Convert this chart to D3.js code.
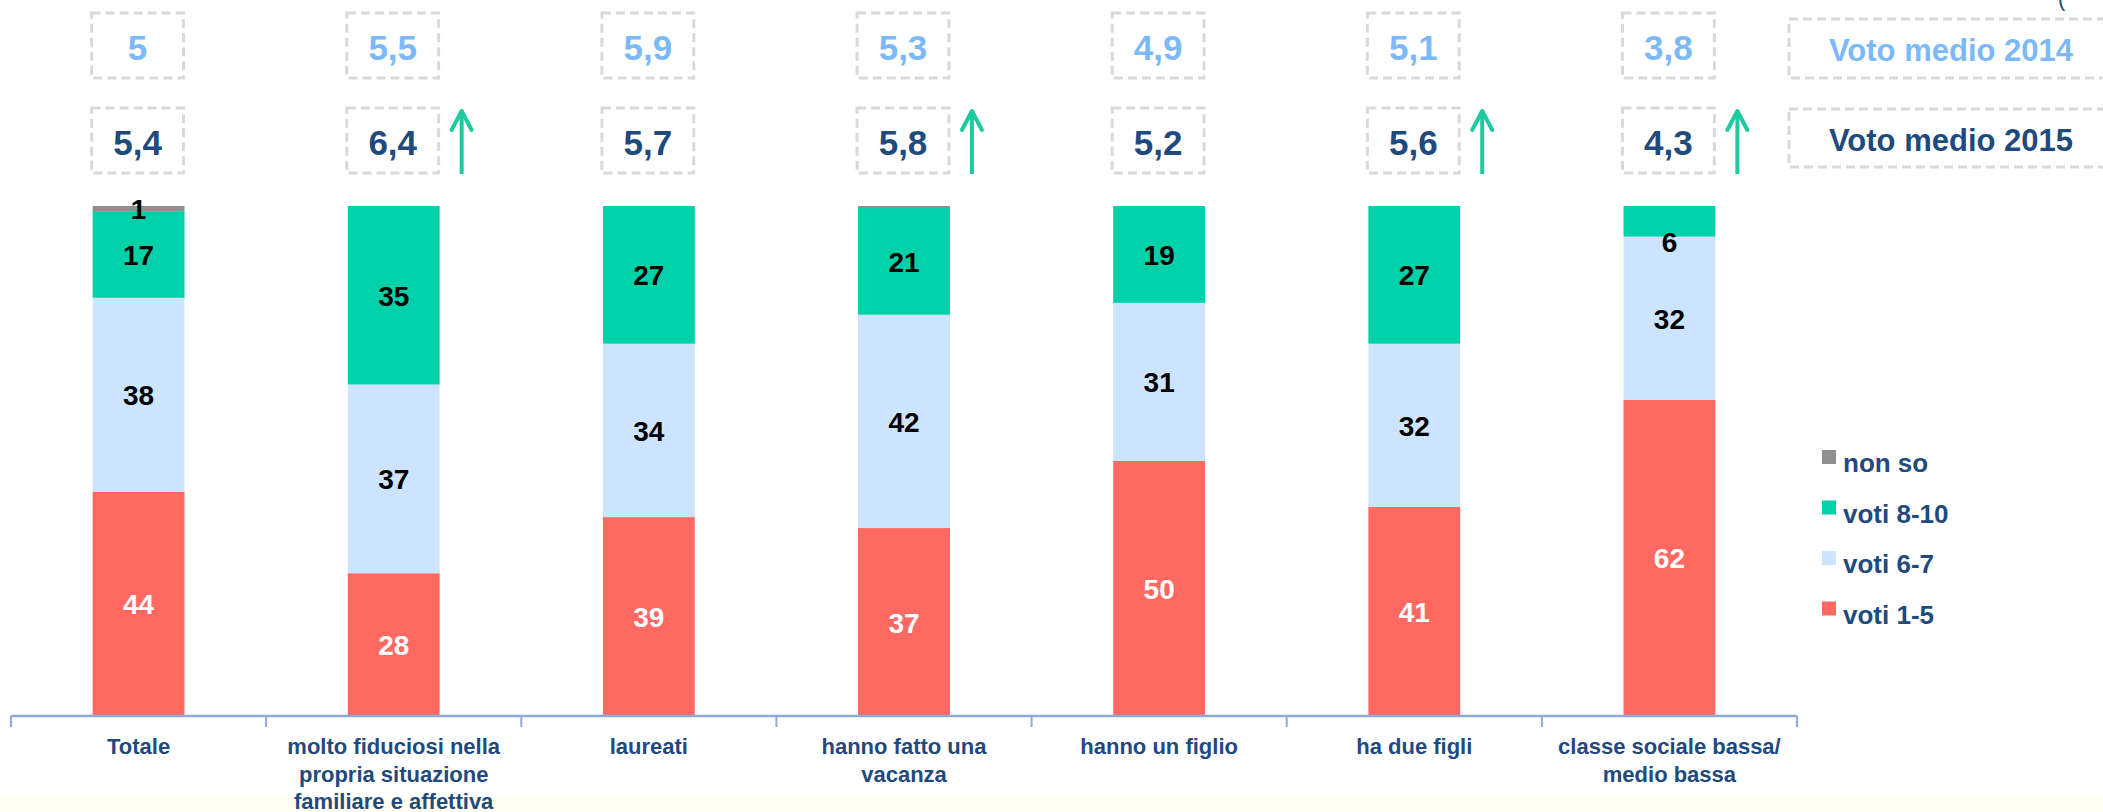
<!DOCTYPE html>
<html>
<head>
<meta charset="utf-8">
<script src="https://cdn.jsdelivr.net/npm/d3@7"></script>
<style>
	body { margin: 0; background: #fff; }
	svg { display: block; font-family: "Liberation Sans", Arial, sans-serif; font-weight: bold; }
</style>
</head>
<body>
<svg id="chart" width="2103" height="812"></svg>
<script>
var categories = ["Totale", "molto fiduciosi nella propria situazione familiare e affettiva", "laureati", "hanno fatto una vacanza", "hanno un figlio", "ha due figli", "classe sociale bassa/ medio bassa"];
var voti15 = [44, 28, 39, 37, 50, 41, 62];
var voti67 = [38, 37, 34, 42, 31, 32, 32];
var voti810 = [17, 35, 27, 21, 19, 27, 6];
var nonSo = [1, 0, 0, 0.4, 0, 0, 0];
var voto2014 = [5, 5.5, 5.9, 5.3, 4.9, 5.1, 3.8];
var voto2015 = [5.4, 6.4, 5.7, 5.8, 5.2, 5.6, 4.3];
var seriesKeys = ["voti 1-5", "voti 6-7", "voti 8-10", "non so"];
var seriesColors = ["#ff6962", "#cce4fd", "#00d1a9", "#909090"];

var svg = d3.select("#chart");
var W = 2103, H = 812;
var navy = "#1f4a7e", paleBlue = "#7cb9f8", dashGrey = "#d9d9d9", arrowCol = "#1ccb9f";

// faint yellowish strip at the very bottom
svg.append("rect").attr("x", 0).attr("y", 797).attr("width", W).attr("height", H - 797).attr("fill", "#fffef1");

var rows = categories.map(function(c, i) {
	return { cat: c, "voti 1-5": voti15[i], "voti 6-7": voti67[i], "voti 8-10": voti810[i], "non so": nonSo[i] };
});

var x = d3.scaleBand().domain(categories).range([11, 1797]).paddingInner(0.64).paddingOuter(0.32);
var y = d3.scaleLinear().domain([0, 1]).range([716, 206]);
var color = d3.scaleOrdinal().domain(seriesKeys).range(seriesColors);

var stacked = d3.stack().keys(seriesKeys).offset(d3.stackOffsetExpand)(rows);

var layers = svg.append("g").selectAll("g")
	.data(stacked)
	.enter().append("g")
		.attr("fill", function(d) { return color(d.key); });

layers.selectAll("rect")
	.data(function(d) { return d; })
	.enter().append("rect")
		.attr("x", function(d) { return x(d.data.cat); })
		.attr("y", function(d) { return y(d[1]); })
		.attr("width", x.bandwidth())
		.attr("height", function(d) { return y(d[0]) - y(d[1]); });

// segment labels
stacked.forEach(function(layer) {
	svg.append("g").selectAll("text")
		.data(layer.filter(function(d) { return d.data[layer.key] >= 1; }))
		.enter().append("text")
			.attr("x", function(d) { return x(d.data.cat) + x.bandwidth() / 2; })
			.attr("y", function(d) {
				var top = y(d[1]), bot = y(d[0]), h = bot - top;
				// thin slices that still fit a label get pushed onto the lower edge
				if (h > 12 && h < 40) return bot + 6;
				return (top + bot) / 2 + 1;
			})
			.attr("text-anchor", "middle")
			.attr("dominant-baseline", "central")
			.attr("font-size", 28)
			.attr("fill", layer.key === "voti 1-5" ? "#fff" : "#000")
			.text(function(d) { return Math.round(d.data[layer.key]); });
});

// axis
var axisG = svg.append("g").attr("transform", "translate(0,716)");
axisG.append("line").attr("x1", 11).attr("x2", 1797).attr("stroke", "#8eaadb").attr("stroke-width", 2.5);
var edges = categories.map(function(c) { return x(c) - x.step() * x.paddingInner() / 2; });
edges.push(1797);
axisG.selectAll("line.tick")
	.data(edges)
	.enter().append("line")
		.attr("class", "tick")
		.attr("x1", function(d) { return d; }).attr("x2", function(d) { return d; })
		.attr("y1", 0).attr("y2", 11)
		.attr("stroke", "#8eaadb").attr("stroke-width", 2);

// category labels, wrapped
var catText = svg.append("g").selectAll("text")
	.data(categories)
	.enter().append("text")
		.attr("x", function(d) { return x(d) + x.bandwidth() / 2; })
		.attr("y", 754)
		.attr("text-anchor", "middle")
		.attr("font-size", 22)
		.attr("fill", navy)
		.text(function(d) { return d; });

catText.each(function() {
	var t = d3.select(this), words = t.text().split(/\s+/), cx = t.attr("x");
	var line = [], lineNo = 0;
	t.text(null);
	var span = t.append("tspan").attr("x", cx).attr("y", 754);
	words.forEach(function(w) {
		line.push(w);
		span.text(line.join(" "));
		if (span.node().getComputedTextLength() > 232 && line.length > 1) {
			line.pop();
			span.text(line.join(" "));
			line = [w];
			lineNo++;
			span = t.append("tspan").attr("x", cx).attr("y", 754 + lineNo * 27.5).text(w);
		}
	});
});

// vote boxes
function voteRow(values, top, fill) {
	var g = svg.append("g");
	g.selectAll("rect")
		.data(values)
		.enter().append("rect")
			.attr("x", function(d, i) { return x(categories[i]) - 1; })
			.attr("y", top)
			.attr("width", x.bandwidth())
			.attr("height", 65)
			.attr("fill", "none")
			.attr("stroke", dashGrey)
			.attr("stroke-width", 3)
			.attr("stroke-dasharray", "9,5");
	g.selectAll("text")
		.data(values)
		.enter().append("text")
			.attr("x", function(d, i) { return x(categories[i]) + x.bandwidth() / 2 - 1; })
			.attr("y", top + 34)
			.attr("text-anchor", "middle")
			.attr("dominant-baseline", "central")
			.attr("font-size", 35)
			.attr("fill", fill)
			.text(function(d) { return String(d).replace(".", ","); });
}
voteRow(voto2014, 13, paleBlue);
voteRow(voto2015, 108, navy);

// arrows where the mean vote rose by half a point or more
var arrowG = svg.append("g");
voto2015.forEach(function(v, i) {
	if (v - voto2014[i] < 0.45) return;
	var ax = x(categories[i]) + x.bandwidth() + 22;
	arrowG.append("line").attr("x1", ax).attr("x2", ax).attr("y1", 174).attr("y2", 111)
		.attr("stroke", arrowCol).attr("stroke-width", 4);
	arrowG.append("path")
		.attr("d", "M" + (ax - 10) + ",130 L" + ax + ",111 L" + (ax + 10) + ",130")
		.attr("fill", "none").attr("stroke", arrowCol).attr("stroke-width", 4)
		.attr("stroke-linecap", "round").attr("stroke-linejoin", "round");
});

// right-hand captions for the two rows
var capG = svg.append("g");
[["Voto medio 2014", 19, 59, paleBlue], ["Voto medio 2015", 109, 58, navy]].forEach(function(c) {
	capG.append("rect").attr("x", 1789).attr("y", c[1]).attr("width", 340).attr("height", c[2])
		.attr("fill", "none").attr("stroke", dashGrey).attr("stroke-width", 3).attr("stroke-dasharray", "9,5");
	capG.append("text").attr("x", 1951).attr("y", c[1] + c[2] / 2 + 2)
		.attr("text-anchor", "middle").attr("dominant-baseline", "central")
		.attr("font-size", 31).attr("fill", c[3]).text(c[0]);
});
svg.append("text").attr("x", 2058).attr("y", 6).attr("font-size", 22).attr("font-weight", "normal").attr("fill", navy).text("(");

// legend
var legend = svg.append("g").selectAll("g")
	.data(seriesKeys.slice().reverse())
	.enter().append("g")
		.attr("transform", function(d, i) { return "translate(1822," + (462 + i * 50.5) + ")"; });
legend.append("rect").attr("x", 0).attr("y", -12).attr("width", 14).attr("height", 14)
	.attr("fill", function(d) { return color(d); });
legend.append("text").attr("x", 21).attr("y", 1).attr("dominant-baseline", "central")
	.attr("font-size", 26).attr("fill", navy).text(function(d) { return d; });
</script>
</body>
</html>
